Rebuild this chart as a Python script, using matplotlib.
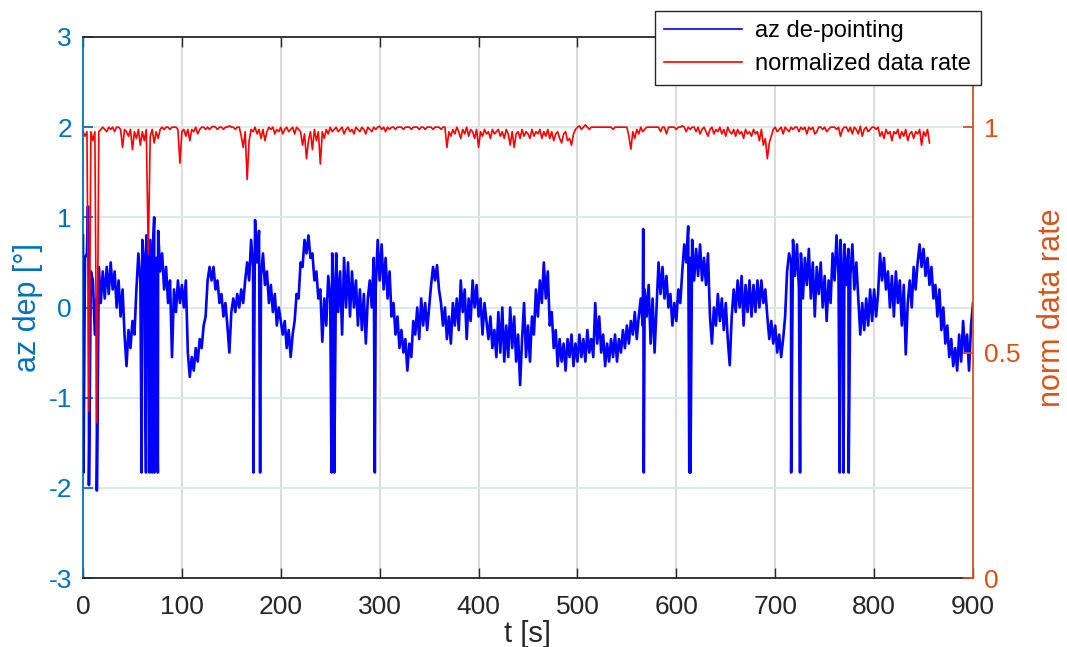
import numpy as np
import matplotlib
matplotlib.use("Agg")
import matplotlib.pyplot as plt
from matplotlib.lines import Line2D

# ---------------- data ----------------
# azimuth de-pointing [deg], sampled every 2 s from t = 0 s
az_dep = [
    0.8, 0.55, 0.6, 0.35, 0.4, 0.3, -0.3, 0.1, 0.45, 0.05,
    0.4, 0.1, 0.45, 0.15, 0.5, 0.2, 0.4, 0.0, 0.3, -0.1,
    0.2, -0.3, -0.65, -0.25, -0.45, -0.15, -0.3, 0.2, 0.6, 0.3,
    0.75, 0.5, 0.8, 0.45, 0.75, 0.5, 1.0, 0.55, 0.85, 0.4,
    0.6, 0.2, 0.45, 0.05, 0.3, -0.55, 0.2, -0.05, 0.3, 0.05,
    0.25, 0.0, 0.3, -0.5, -0.77, -0.55, -0.7, -0.45, -0.6, -0.35,
    -0.45, -0.2, -0.1, 0.3, 0.45, 0.3, 0.45, 0.2, 0.3, 0.05,
    0.15, -0.1, 0.05, -0.2, -0.5, -0.05, 0.1, -0.05, 0.15, 0.0,
    0.2, 0.05, 0.3, 0.5, 0.3, 0.75, 0.45, 0.97, 0.5, 0.85,
    0.35, 0.6, 0.25, 0.4, 0.05, 0.25, -0.05, 0.15, -0.2, 0.0,
    -0.15, -0.3, -0.15, -0.45, -0.25, -0.55, -0.3, -0.15, 0.15, 0.1,
    0.5, 0.45, 0.75, 0.6, 0.8, 0.55, 0.6, 0.3, 0.4, 0.1,
    0.2, -0.38, 0.1, -0.2, 0.35, 0.1, 0.6, 0.05, 0.6, -0.05,
    0.4, -0.3, 0.55, 0.0, 0.5, -0.1, 0.4, 0.0, 0.3, -0.2,
    0.2, -0.25, 0.15, -0.4, 0.1, 0.3, 0.0, 0.55, 0.2, 0.75,
    0.3, 0.7, 0.2, 0.55, 0.1, 0.4, -0.1, 0.05, -0.3, -0.1,
    -0.45, -0.25, -0.5, -0.35, -0.7, -0.4, -0.55, -0.15, -0.3, 0.0,
    -0.35, 0.1, -0.2, 0.05, -0.25, 0.0, 0.25, 0.45, 0.3, 0.47,
    0.2, 0.05, -0.2, 0.0, -0.35, -0.1, -0.4, 0.05, -0.2, 0.1,
    -0.25, 0.3, -0.05, 0.2, -0.35, 0.1, -0.15, 0.3, 0.0, 0.25,
    -0.1, 0.1, -0.3, 0.05, -0.15, -0.35, -0.1, -0.45, -0.25, -0.55,
    -0.05, -0.5, 0.0, -0.6, -0.2, -0.55, 0.0, -0.45, -0.1, -0.6,
    -0.3, -0.86, -0.35, 0.05, -0.55, -0.2, -0.6, -0.1, -0.3, 0.2,
    -0.1, 0.3, 0.05, 0.5, 0.1, 0.4, -0.2, -0.05, -0.45, -0.25,
    -0.65, -0.35, -0.6, -0.4, -0.7, -0.35, -0.55, -0.3, -0.65, -0.4,
    -0.6, -0.3, -0.55, -0.35, -0.6, -0.25, -0.5, -0.35, -0.55, 0.05,
    -0.4, -0.1, -0.5, -0.3, -0.65, -0.4, -0.6, -0.35, -0.55, -0.3,
    -0.6, -0.35, -0.5, -0.25, -0.45, -0.2, -0.4, -0.15, -0.3, -0.05,
    -0.35, -0.1, 0.1, -0.2, 0.2, -0.1, 0.25, -0.4, 0.1, -0.5,
    0.0, 0.5, 0.15, 0.45, 0.1, 0.35, 0.0, 0.15, -0.2, 0.05,
    -0.15, 0.2, 0.05, 0.4, 0.7, 0.5, 0.9, 0.55, 0.75, 0.3,
    0.65, 0.35, 0.7, 0.3, 0.55, 0.25, 0.6, -0.1, -0.4, 0.0,
    -0.2, 0.15, -0.15, 0.1, -0.25, 0.05, -0.35, -0.64, -0.1, 0.2,
    -0.05, 0.3, 0.0, 0.35, -0.2, 0.25, -0.05, 0.3, -0.1, 0.25,
    -0.05, 0.3, 0.0, 0.3, 0.05, 0.2, -0.1, -0.35, -0.15, -0.4,
    -0.2, -0.5, -0.3, -0.55, -0.35, -0.1, 0.4, 0.6, 0.5, 0.75,
    0.35, 0.7, 0.2, 0.6, 0.1, 0.55, 0.25, 0.65, 0.1, 0.5,
    -0.1, 0.45, 0.15, 0.5, 0.0, 0.35, -0.15, 0.3, 0.05, 0.6,
    0.3, 0.8, 0.35, 0.75, 0.3, 0.7, 0.25, 0.65, 0.35, 0.7,
    0.2, 0.5, 0.1, -0.3, 0.05, -0.25, 0.1, -0.2, 0.2, -0.15,
    0.2, -0.1, 0.15, 0.6, 0.3, 0.55, 0.2, 0.4, 0.0, 0.35,
    -0.1, 0.4, 0.05, 0.3, -0.2, 0.25, -0.52, 0.05, 0.3, 0.0,
    0.45, 0.2, 0.5, 0.7, 0.45, 0.65, 0.35, 0.55, 0.25, 0.45,
    0.1, 0.25, -0.1, 0.2, -0.25, 0.0, -0.4, -0.2, -0.55, -0.35,
    -0.65, -0.45, -0.7, -0.3, -0.6, -0.15, -0.5, -0.3, -0.7, -0.2,
    0.05,
]
az_step = 2.0

# isolated outlier samples of the de-pointing signal
spike_t = [0.5, 5.0, 6.0, 14.0, 59.3, 63.7, 67.1, 69.9, 72.3, 75.7,
           172.3, 179.1, 251.3, 254.1, 295.1, 566.5, 567.1, 613.1, 614.3,
           716.1, 725.1, 765.3, 769.1, 774.3]
spike_v = [-1.83, 1.12, -1.97, -2.03, -1.83, -1.83, -1.83, -1.83, -1.83, -1.83,
           -1.83, -1.83, -1.83, -1.83, -1.83, 0.87, -1.83, -1.83, -1.83,
           -1.83, -1.83, -1.83, -1.83, -1.83]

# normalized data rate, sampled every 2 s from t = 0 s
data_rate = [
    0.99, 0.98, 0.99, 0.37, 0.99, 0.97, 0.99, 0.345, 0.99, 0.995,
    1.0, 0.995, 0.99, 1.0, 0.995, 1.0, 0.99, 1.0, 1.0, 0.995,
    0.955, 0.995, 0.99, 0.98, 0.995, 0.95, 0.99, 0.975, 0.995, 0.96,
    0.99, 0.97, 0.995, 0.72, 0.98, 0.995, 0.965, 0.99, 0.975, 0.995,
    1.0, 0.995, 1.0, 1.0, 0.995, 1.0, 1.0, 1.0, 0.995, 0.92,
    0.99, 0.995, 0.98, 0.995, 0.97, 0.995, 0.99, 1.0, 0.985, 0.995,
    1.0, 1.0, 0.995, 1.0, 0.995, 1.0, 1.002, 1.0, 0.995, 1.0,
    1.0, 0.995, 1.0, 1.0, 1.003, 1.0, 1.0, 0.995, 1.0, 1.0,
    0.98, 0.955, 0.99, 0.884, 0.97, 0.995, 0.99, 1.0, 0.985, 0.995,
    0.975, 0.995, 0.97, 0.99, 1.0, 0.995, 1.0, 0.985, 0.995, 0.99,
    1.0, 0.985, 0.995, 1.0, 0.99, 0.995, 1.0, 0.985, 1.0, 0.995,
    0.99, 0.96, 0.985, 0.93, 0.97, 0.99, 0.95, 0.995, 0.97, 0.99,
    0.918, 0.99, 0.975, 0.995, 0.985, 1.0, 0.99, 0.995, 1.0, 0.99,
    0.995, 1.0, 0.985, 0.995, 1.0, 0.99, 0.995, 0.985, 1.0, 0.995,
    0.99, 1.0, 0.995, 0.985, 1.0, 0.995, 0.99, 1.0, 0.995, 1.0,
    1.002, 0.995, 1.0, 0.99, 1.0, 0.995, 1.0, 1.0, 0.995, 1.0,
    1.0, 1.0, 0.995, 1.0, 1.0, 1.0, 0.995, 1.0, 1.0, 1.0,
    0.995, 1.0, 1.0, 0.995, 1.0, 1.0, 1.0, 0.995, 1.0, 1.0,
    1.0, 0.995, 1.0, 1.0, 0.955, 0.99, 0.98, 0.995, 0.985, 1.0,
    0.99, 0.975, 0.995, 0.985, 1.0, 0.98, 0.995, 0.99, 0.975, 0.995,
    0.955, 0.99, 0.98, 0.995, 0.985, 0.99, 0.975, 0.995, 0.985, 0.99,
    0.995, 0.98, 0.99, 0.975, 0.995, 0.985, 0.96, 0.99, 0.955, 0.985,
    0.99, 0.975, 0.995, 0.98, 0.99, 0.985, 0.975, 0.995, 0.98, 0.99,
    0.985, 0.995, 0.975, 0.99, 0.98, 0.995, 0.975, 0.99, 0.97, 0.985,
    0.99, 0.975, 0.965, 0.985, 0.99, 0.97, 0.975, 0.96, 0.985, 0.995,
    1.0, 1.003, 0.995, 1.0, 1.005, 1.0, 0.995, 1.0, 1.0, 1.0,
    1.0, 1.0, 1.0, 1.0, 1.0, 1.0, 1.0, 1.0, 0.995, 1.0,
    1.0, 1.0, 1.0, 1.0, 1.0, 1.0, 0.98, 0.951, 0.99, 0.975,
    0.995, 0.985, 1.0, 0.99, 0.995, 1.0, 1.0, 1.0, 1.0, 1.0,
    1.0, 1.0, 0.99, 1.0, 1.0, 0.985, 1.0, 1.0, 1.0, 1.0,
    0.995, 1.0, 1.0, 1.003, 1.0, 0.99, 1.0, 0.995, 1.0, 1.0,
    0.99, 1.0, 0.985, 0.995, 1.0, 0.99, 0.98, 0.995, 1.0, 0.985,
    0.995, 0.99, 1.0, 0.985, 0.995, 0.98, 1.0, 0.99, 0.985, 0.995,
    0.98, 0.995, 0.985, 0.99, 0.975, 0.995, 0.985, 0.99, 0.98, 0.995,
    0.985, 0.99, 0.97, 0.995, 0.96, 0.975, 0.93, 0.965, 0.98, 0.995,
    1.0, 0.99, 0.995, 1.0, 0.985, 1.0, 0.995, 0.99, 1.0, 0.995,
    1.0, 1.0, 0.99, 1.0, 0.995, 1.0, 0.985, 1.0, 0.995, 1.0,
    0.985, 0.99, 1.0, 1.0, 0.995, 1.0, 0.99, 0.995, 1.0, 1.0,
    1.0, 0.995, 1.0, 0.98, 0.995, 1.0, 1.0, 0.99, 1.0, 0.985,
    1.0, 0.995, 0.985, 1.002, 0.98, 0.995, 1.0, 0.99, 0.995, 1.0,
    1.0, 0.995, 1.0, 0.98, 0.99, 0.975, 0.995, 0.985, 0.99, 0.97,
    0.99, 0.985, 0.995, 0.975, 0.99, 0.98, 0.995, 0.97, 0.985, 0.99,
    0.975, 0.99, 0.985, 0.995, 0.96, 0.99, 0.98, 0.995, 0.965,
]
rate_step = 2.0

x_ticks = [0, 100, 200, 300, 400, 500, 600, 700, 800, 900]
left_ticks = [-3, -2, -1, 0, 1, 2, 3]
right_ticks = [0, 0.5, 1]
right_ticklabels = ["0", "0.5", "1"]

# ---------------- style ----------------
plt.rcParams["font.family"] = ["Liberation Sans", "DejaVu Sans"]
plt.rcParams["axes.unicode_minus"] = False

C_LEFT = "#0072BD"
C_RIGHT = "#D95319"
C_AX = "#262626"

W, H = 1067, 647
fig = plt.figure(figsize=(W / 100, H / 100), dpi=100)
x0, x1 = 83, 973
y0, y1 = 37, 578
ax = fig.add_axes([x0 / W, 1 - y1 / H, (x1 - x0) / W, (y1 - y0) / H])

# merge regular samples with the outliers
t_reg = np.arange(len(az_dep)) * az_step
t_all = np.concatenate([t_reg, np.array(spike_t)])
v_all = np.concatenate([np.array(az_dep), np.array(spike_v)])
order = np.argsort(t_all, kind="stable")
ax.plot(t_all[order], v_all[order], color="#0000FF", lw=1.9, zorder=3)

ax.set_xlim(0, 900)
ax.set_ylim(-3, 3)
ax.set_xticks(x_ticks)
ax.set_yticks(left_ticks)
ax.grid(False)
for xt in x_ticks[1:-1]:
    ax.axvline(xt, color="#DCDCDC", lw=1.4, zorder=1)
for yt in left_ticks[1:-1]:
    ax.axhline(yt, color="#D9EAF5", lw=1.4, zorder=1)

ax.tick_params(axis="x", which="both", direction="in", length=7, width=1,
               colors=C_AX, top=True, bottom=True, labelsize=19, pad=12)
ax.tick_params(axis="y", which="both", direction="in", length=7, width=1.3,
               colors=C_LEFT, left=True, right=True, labelsize=19, pad=8)
ax.spines["left"].set_color(C_LEFT)
ax.spines["bottom"].set_color(C_AX)
ax.spines["top"].set_color(C_AX)
ax.spines["right"].set_visible(False)
for s in ("left", "bottom", "top"):
    ax.spines[s].set_linewidth(1.3)
ax.set_xlabel("t [s]", fontsize=21, color=C_AX, labelpad=1)
ax.set_ylabel("az dep [°]", fontsize=22, color=C_LEFT, labelpad=4)

ax2 = ax.twinx()
t_rate = np.arange(len(data_rate)) * rate_step
ax2.plot(t_rate, data_rate, color="#FF0000", lw=1.2, zorder=4)
ax2.set_ylim(0, 1.2)
ax2.set_yticks(right_ticks)
ax2.set_yticklabels(right_ticklabels)
ax2.tick_params(axis="y", direction="in", length=7, width=1.3, colors=C_RIGHT,
                labelsize=19, pad=8)
for s in ("left", "bottom", "top"):
    ax2.spines[s].set_visible(False)
ax2.spines["right"].set_color(C_RIGHT)
ax2.spines["right"].set_linewidth(1.3)
ax2.set_ylabel("norm data rate", fontsize=22, color=C_RIGHT, rotation=90,
               labelpad=12)

handles = [Line2D([], [], color="#0000FF", lw=1.2),
           Line2D([], [], color="#FF0000", lw=1.2)]
leg = fig.legend(handles, ["az de-pointing", "normalized data rate"],
                 loc="upper left", bbox_to_anchor=(655 / W, 1 - 11 / H),
                 fontsize=17, frameon=True, fancybox=False, framealpha=1,
                 edgecolor=C_AX, handlelength=3.3, handletextpad=0.55,
                 borderpad=0.4, labelspacing=0.45, borderaxespad=0)
leg.get_frame().set_linewidth(1.0)
leg.set_zorder(10)

fig.savefig("out.png", dpi=100)
